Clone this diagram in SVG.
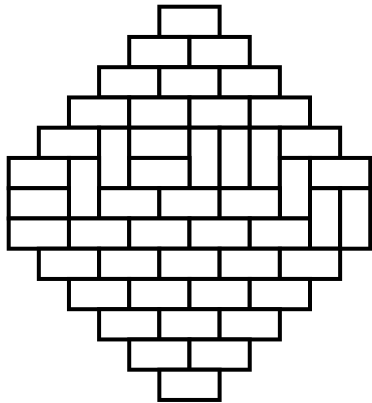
<svg xmlns="http://www.w3.org/2000/svg" xmlns:xlink="http://www.w3.org/1999/xlink" width="372" height="403" viewBox="0 0 372 403">
<style>
.d{fill:#fff;stroke:#000;stroke-width:4;stroke-linejoin:miter}
</style>
<defs>
<rect id="H" class="d" width="60.26" height="30.25"/>
<rect id="V" class="d" width="30.13" height="60.5"/>
</defs>
<rect width="372" height="403" fill="#fff"/>
<g id="tiles">
<g id="r0"><use href="#H" x="159.35" y="6.7"/></g>
<g id="r1"><use href="#H" x="129.22" y="36.95"/><use href="#H" x="189.48" y="36.95"/></g>
<g id="r2"><use href="#H" x="99.09" y="67.2"/><use href="#H" x="159.35" y="67.2"/><use href="#H" x="219.61" y="67.2"/></g>
<g id="r3"><use href="#H" x="68.96" y="97.45"/><use href="#H" x="129.22" y="97.45"/><use href="#H" x="189.48" y="97.45"/><use href="#H" x="249.74" y="97.45"/></g>
<g id="r4"><use href="#H" x="38.83" y="127.7"/><use href="#V" x="99.09" y="127.7"/><use href="#H" x="129.22" y="127.7"/><use href="#V" x="189.48" y="127.7"/><use href="#V" x="219.61" y="127.7"/><use href="#V" x="249.74" y="127.7"/><use href="#H" x="279.87" y="127.7"/></g>
<g id="r5"><use href="#H" x="8.7" y="157.95"/><use href="#V" x="68.96" y="157.95"/><use href="#H" x="129.22" y="157.95"/><use href="#V" x="279.87" y="157.95"/><use href="#H" x="310" y="157.95"/></g>
<g id="r6"><use href="#H" x="8.7" y="188.2"/><use href="#H" x="99.09" y="188.2"/><use href="#H" x="159.35" y="188.2"/><use href="#H" x="219.61" y="188.2"/><use href="#V" x="310" y="188.2"/><use href="#V" x="340.13" y="188.2"/></g>
<g id="r7"><use href="#H" x="8.7" y="218.45"/><use href="#H" x="68.96" y="218.45"/><use href="#H" x="129.22" y="218.45"/><use href="#H" x="189.48" y="218.45"/><use href="#H" x="249.74" y="218.45"/></g>
<g id="r8"><use href="#H" x="38.83" y="248.7"/><use href="#H" x="99.09" y="248.7"/><use href="#H" x="159.35" y="248.7"/><use href="#H" x="219.61" y="248.7"/><use href="#H" x="279.87" y="248.7"/></g>
<g id="r9"><use href="#H" x="68.96" y="278.95"/><use href="#H" x="129.22" y="278.95"/><use href="#H" x="189.48" y="278.95"/><use href="#H" x="249.74" y="278.95"/></g>
<g id="r10"><use href="#H" x="99.09" y="309.2"/><use href="#H" x="159.35" y="309.2"/><use href="#H" x="219.61" y="309.2"/></g>
<g id="r11"><use href="#H" x="129.22" y="339.45"/><use href="#H" x="189.48" y="339.45"/></g>
<g id="r12"><use href="#H" x="159.35" y="369.7"/></g>
</g>
<g id="connectors"/>
</svg>
